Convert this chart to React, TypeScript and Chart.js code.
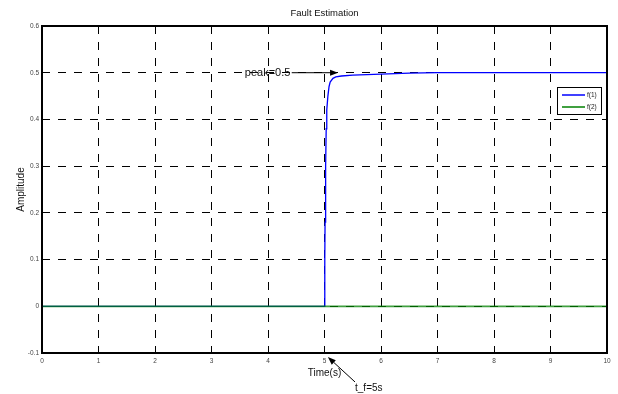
import React, { useEffect, useRef } from 'react';
import { Chart, registerables } from 'chart.js';

Chart.register(...registerables);

// ---- data ----
const f1Time = [0, 5, 5.005, 5.01, 5.02, 5.03, 5.04, 5.06, 5.08, 5.1, 5.15, 5.2, 5.3, 5.5, 6, 6.5, 7, 10];
const f1Values = [0, 0, 0.1, 0.18, 0.3, 0.38, 0.42, 0.45, 0.47, 0.48, 0.488, 0.491, 0.493, 0.495, 0.497, 0.499, 0.5, 0.5];
const f2Time = [0, 2.5, 5, 7.5, 10];
const f2Values = [0, 0, 0, 0, 0];
const xTickLabels = ['0', '1', '2', '3', '4', '5', '6', '7', '8', '9', '10'];
const yTickLabels = ['-0.1', '0', '0.1', '0.2', '0.3', '0.4', '0.5', '0.6'];
const seriesLabels = ['f(1)', 'f(2)'];
const titleText = 'Fault Estimation';
const xAxisTitle = 'Time(s)';
const yAxisTitle = 'Amplitude';
const peakText = 'peak=0.5';
const tfText = 't_f=5s';

// annotation anchors (data coordinates)
const peakAnno = { textX: 3.59, arrowFromX: 4.42, arrowToX: 5.24, y: 0.5 };
const tfAnno = { textX: 5.54, textY: -0.175, fromX: 5.54, fromY: -0.162, toX: 5.06, toY: -0.1086 };

const FONT = '"Liberation Sans", Arial, Helvetica, sans-serif';

function arrow(ctx: CanvasRenderingContext2D, x1: number, y1: number, x2: number, y2: number) {
  const ang = Math.atan2(y2 - y1, x2 - x1);
  const hl = 8;
  const hw = 3;
  const bx = x2 - hl * Math.cos(ang);
  const by = y2 - hl * Math.sin(ang);
  ctx.save();
  ctx.strokeStyle = '#000';
  ctx.fillStyle = '#000';
  ctx.lineWidth = 1;
  ctx.beginPath();
  ctx.moveTo(x1, y1);
  ctx.lineTo(bx, by);
  ctx.stroke();
  ctx.beginPath();
  ctx.moveTo(x2, y2);
  ctx.lineTo(bx + hw * Math.sin(ang), by - hw * Math.cos(ang));
  ctx.lineTo(bx - hw * Math.sin(ang), by + hw * Math.cos(ang));
  ctx.closePath();
  ctx.fill();
  ctx.restore();
}

const overlayPlugin = {
  id: 'overlay',
  afterDatasetsDraw(chart: any) {
    const { ctx, chartArea: a } = chart;
    ctx.save();
    ctx.strokeStyle = '#000';
    ctx.lineWidth = 2;
    ctx.strokeRect(a.left, a.top, a.right - a.left, a.bottom - a.top);
    ctx.restore();
  },
  afterDraw(chart: any) {
    const { ctx, chartArea: a, scales } = chart;
    const xs = scales.x;
    const ys = scales.y;
    ctx.save();
    ctx.fillStyle = '#111';
    // title
    ctx.font = `9.5px ${FONT}`;
    ctx.textAlign = 'center';
    ctx.textBaseline = 'middle';
    ctx.fillText(titleText, (a.left + a.right) / 2, 13);
    // x title
    ctx.font = `10px ${FONT}`;
    ctx.fillText(xAxisTitle, (a.left + a.right) / 2, 373);
    // y title
    ctx.save();
    ctx.translate(21, (a.top + a.bottom) / 2);
    ctx.rotate(-Math.PI / 2);
    ctx.fillText(yAxisTitle, 0, 0);
    ctx.restore();

    // legend
    const lx = 557, ly = 87, lw = 44, lh = 27;
    ctx.fillStyle = '#fff';
    ctx.fillRect(lx, ly, lw, lh);
    ctx.strokeStyle = '#000';
    ctx.lineWidth = 1;
    ctx.strokeRect(lx + 0.5, ly + 0.5, lw, lh);
    const colors = ['#0000ff', '#008000'];
    seriesLabels.forEach((lab, i) => {
      const yy = ly + 8 + i * 12;
      ctx.strokeStyle = colors[i];
      ctx.lineWidth = 1.5;
      ctx.beginPath();
      ctx.moveTo(lx + 5, yy);
      ctx.lineTo(lx + 28, yy);
      ctx.stroke();
      ctx.fillStyle = '#222';
      ctx.font = `6.5px ${FONT}`;
      ctx.textAlign = 'left';
      ctx.textBaseline = 'middle';
      ctx.fillText(lab, lx + 30, yy);
    });

    // peak annotation
    const py = ys.getPixelForValue(peakAnno.y);
    ctx.fillStyle = '#111';
    ctx.font = `11px ${FONT}`;
    ctx.textAlign = 'left';
    ctx.textBaseline = 'middle';
    ctx.fillText(peakText, xs.getPixelForValue(peakAnno.textX), py);
    arrow(ctx, xs.getPixelForValue(peakAnno.arrowFromX), py, xs.getPixelForValue(peakAnno.arrowToX), py);

    // t_f annotation
    ctx.font = `10px ${FONT}`;
    ctx.fillStyle = '#111';
    ctx.fillText(tfText, xs.getPixelForValue(tfAnno.textX), ys.getPixelForValue(tfAnno.textY));
    arrow(
      ctx,
      xs.getPixelForValue(tfAnno.fromX),
      ys.getPixelForValue(tfAnno.fromY),
      xs.getPixelForValue(tfAnno.toX),
      ys.getPixelForValue(tfAnno.toY)
    );
    ctx.restore();
  },
};

export default function App() {
  const ref = useRef<HTMLCanvasElement | null>(null);
  useEffect(() => {
    document.body.style.margin = '0';
    const canvas = ref.current;
    if (!canvas) return;
    const chart = new Chart(canvas, {
      type: 'line',
      data: {
        datasets: [
          {
            label: seriesLabels[0],
            data: f1Time.map((t, i) => ({ x: t, y: f1Values[i] })),
            borderColor: '#0000ff',
            borderWidth: 1.3,
            pointRadius: 0,
            tension: 0,
            order: 2,
          },
          {
            label: seriesLabels[1],
            data: f2Time.map((t, i) => ({ x: t, y: f2Values[i] })),
            borderColor: 'rgba(0,128,0,0.75)',
            borderWidth: 1.8,
            pointRadius: 0,
            tension: 0,
            order: 1,
          },
        ],
      },
      options: {
        animation: false,
        responsive: false,
        maintainAspectRatio: false,
        devicePixelRatio: 1,
        layout: { padding: { left: 0, right: 11, top: 26, bottom: 0 } },
        plugins: { legend: { display: false }, tooltip: { enabled: false }, title: { display: false } },
        scales: {
          x: {
            type: 'linear',
            min: 0,
            max: 10,
            ticks: {
              stepSize: 1,
              autoSkip: false,
              maxRotation: 0,
              padding: 4,
              color: '#444',
              font: { size: 6.5, family: FONT },
              callback: (_v: any, i: number) => xTickLabels[i],
            },
            grid: { color: '#000', lineWidth: 1, drawTicks: false },
            border: { display: false, dash: [8, 8] },
            afterFit: (s: any) => { s.height = 41; },
          },
          y: {
            type: 'linear',
            min: -0.1,
            max: 0.6,
            ticks: {
              stepSize: 0.1,
              padding: 3,
              color: '#444',
              font: { size: 6.5, family: FONT },
              callback: (_v: any, i: number) => yTickLabels[i],
            },
            grid: { color: '#000', lineWidth: 1, drawTicks: false },
            border: { display: false, dash: [8, 8] },
            afterFit: (s: any) => { s.width = 42; },
          },
        },
      },
      plugins: [overlayPlugin],
    } as any);
    return () => chart.destroy();
  }, []);
  return (
    <div style={{ position: 'fixed', left: 0, top: 0, width: 618, height: 394, background: '#fff' }}>
      <canvas ref={ref} width={618} height={394} style={{ display: 'block' }} />
    </div>
  );
}
